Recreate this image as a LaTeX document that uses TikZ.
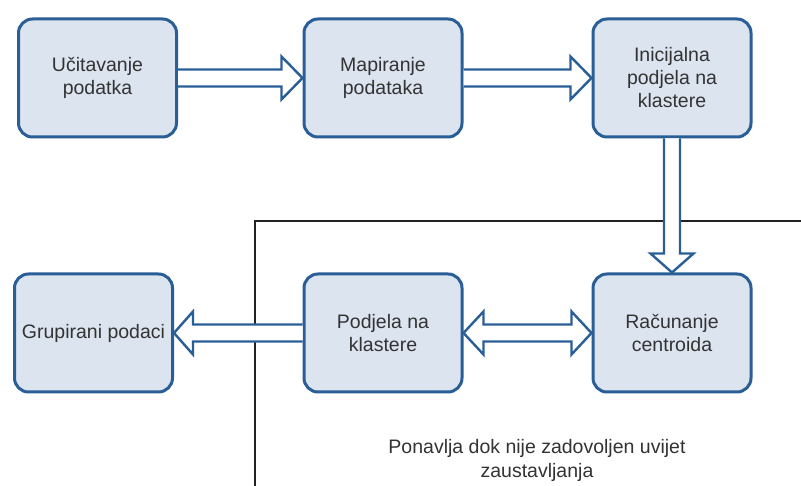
\documentclass[tikz,border=0pt]{standalone}
\usepackage{fontspec}
\setmainfont{Liberation Sans}
\usetikzlibrary{calc}
\definecolor{boxfill}{HTML}{DCE4F0}
\definecolor{boxline}{HTML}{2A5E96}
\definecolor{txt}{HTML}{333333}
\definecolor{loopline}{HTML}{222222}
\begin{document}
\begin{tikzpicture}[x=1pt,y=-1pt,
  stage/.style={draw=boxline, fill=boxfill, line width=3pt, rounded corners=14pt,
    minimum width=158pt, minimum height=118pt, align=center, text=txt,
    font=\fontsize{19.5}{23}\selectfont, inner sep=4pt},
  flow/.style={draw=boxline, fill=white, line width=2.4pt, line join=miter},
  loopframe/.style={draw=loopline, line width=1.2pt},
  note/.style={text=txt, align=center, font=\fontsize{19.5}{24}\selectfont}]
  \fill[white] (0,0) rectangle (801,486);
  \useasboundingbox (0,0) rectangle (801,486);

  % frame of the repeated part
  \coordinate (loopbottom) at (255,486);
  \coordinate (loopcorner) at (255,221);
  \coordinate (loopend) at (801,221);
  \draw[loopframe] (loopbottom) -- (loopcorner) -- (loopend);

  % processing stages
  \node[stage] (b1) at (97.5,78) {Učitavanje\\podatka};
  \node[stage] (b2) at (383,78) {Mapiranje\\podataka};
  \node[stage] (b3) at (672,78) {Inicijalna\\podjela na\\klastere};
  \node[stage] (b4) at (672,333) {Računanje\\centroida};
  \node[stage] (b5) at (383,333) {Podjela na\\klastere};
  \node[stage] (b6) at (93.5,333) {Grupirani podaci};

  % block arrows
  \draw[flow] ($(b1.east)+(0,-8.5)$) -- ($(b2.west)+(-21,-8.5)$) -- ($(b2.west)+(-21,-21.5)$)
    -- (b2.west) -- ($(b2.west)+(-21,21.5)$) -- ($(b2.west)+(-21,8.5)$) -- ($(b1.east)+(0,8.5)$);
  \draw[flow] ($(b2.east)+(0,-8.5)$) -- ($(b3.west)+(-21,-8.5)$) -- ($(b3.west)+(-21,-21.5)$)
    -- (b3.west) -- ($(b3.west)+(-21,21.5)$) -- ($(b3.west)+(-21,8.5)$) -- ($(b2.east)+(0,8.5)$);
  \draw[flow] ($(b3.south)+(-8,0)$) -- ($(b4.north)+(-8,-19)$) -- ($(b4.north)+(-21.5,-19)$)
    -- (b4.north) -- ($(b4.north)+(21.5,-19)$) -- ($(b4.north)+(8,-19)$) -- ($(b3.south)+(8,0)$);
  \draw[flow] (b5.east) -- ($(b5.east)+(20,-21.5)$) -- ($(b5.east)+(20,-8.5)$)
    -- ($(b4.west)+(-20,-8.5)$) -- ($(b4.west)+(-20,-21.5)$) -- (b4.west)
    -- ($(b4.west)+(-20,21.5)$) -- ($(b4.west)+(-20,8.5)$)
    -- ($(b5.east)+(20,8.5)$) -- ($(b5.east)+(20,21.5)$) -- cycle;
  \draw[flow] ($(b5.west)+(0,-8.5)$) -- ($(b6.east)+(19,-8.5)$) -- ($(b6.east)+(19,-21.5)$)
    -- (b6.east) -- ($(b6.east)+(19,21.5)$) -- ($(b6.east)+(19,8.5)$) -- ($(b5.west)+(0,8.5)$);

  \node[note] (cond) at (537,460) {Ponavlja dok nije zadovoljen uvijet\\zaustavljanja};
\end{tikzpicture}
\end{document}
